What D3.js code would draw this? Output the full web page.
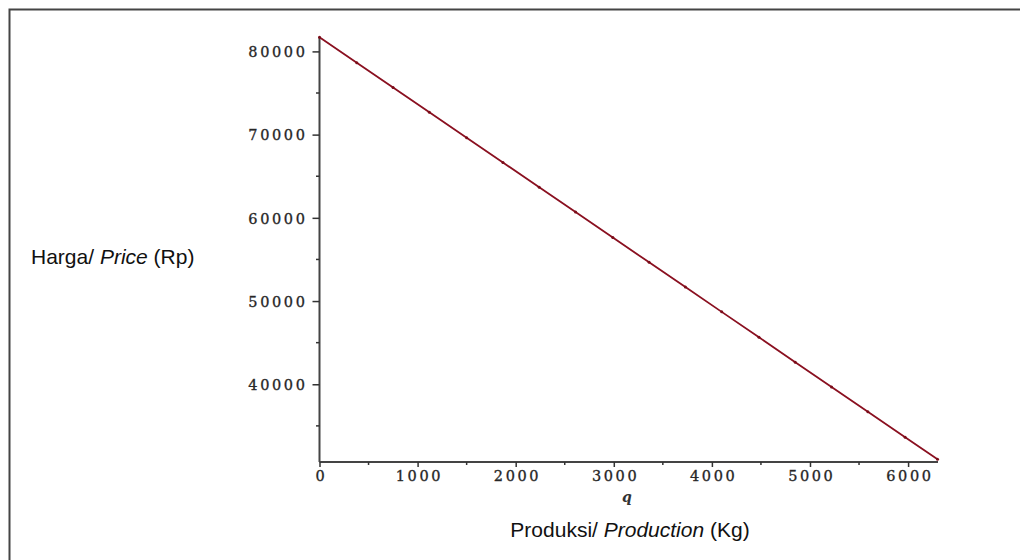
<!DOCTYPE html>
<html>
<head>
<meta charset="utf-8">
<script src="https://cdn.jsdelivr.net/npm/d3@7"></script>
<style>
  body { margin: 0; background: #fff; }
  .tick-label { font-family: "DejaVu Serif", serif; font-size: 14.5px; letter-spacing: 2.6px; fill: #222; stroke: #333; stroke-width: 0.35px; }
  .title { font-family: "Liberation Sans", Arial, sans-serif; font-size: 21px; fill: #111; }
</style>
</head>
<body>
<div id="chart"></div>
<script>
// values
const production = [0, 380, 750, 1120, 1500, 1870, 2240, 2610, 2990, 3360, 3730, 4100, 4480, 4850, 5220, 5590, 5970, 6300];
const price = [81700, 78640, 75660, 72680, 69620, 66650, 63670, 60690, 57630, 54650, 51680, 48700, 45640, 42660, 39680, 36700, 33640, 30980];
const xTicks = [0, 1000, 2000, 3000, 4000, 5000, 6000];
const yTicks = [40000, 50000, 60000, 70000, 80000];
const xDomain = [0, 6305];
const yDomain = [30660, 81730];

const W = 1020, H = 560;
const svg = d3.select("#chart").append("svg")
    .attr("width", W)
    .attr("height", H);

// outer frame
svg.append("rect")
    .attr("x", 9.5).attr("y", 9.5)
    .attr("width", W).attr("height", H)
    .attr("fill", "none")
    .attr("stroke", "#444")
    .attr("stroke-width", 2);

const x = d3.scaleLinear().domain(xDomain).range([319.5, 938]);
const y = d3.scaleLinear().domain(yDomain).range([462, 37]);

const data = production.map((q, i) => ({q: q, p: price[i]}));

// minor ticks
const xMinor = d3.range(500, 6300, 1000);
const yMinor = d3.range(35000, 81000, 10000);

const xAxis = d3.axisBottom(x).tickValues(xTicks).tickSize(5).tickFormat(d3.format("d"));
const yAxis = d3.axisLeft(y).tickValues(yTicks).tickSize(7).tickFormat(d3.format("d"));

const gx = svg.append("g").attr("transform", "translate(0,462)").call(xAxis);
const gy = svg.append("g").attr("transform", "translate(319.5,0)").call(yAxis);

[gx, gy].forEach(g => {
    g.select(".domain").attr("stroke", "#444").attr("stroke-width", 2);
    g.selectAll(".tick line").attr("stroke", "#333").attr("stroke-width", 1.5);
    g.selectAll(".tick text").attr("class", "tick-label").attr("font-size", null).attr("font-family", null);
});
gx.select(".domain").attr("d", "M319.5,0H938");
gy.select(".domain").attr("d", "M0,462V37");
gx.selectAll(".tick text").attr("dy", "0.72em").attr("y", 9).attr("dx", 1.3);
gy.selectAll(".tick text").attr("x", -12).attr("dy", "0.36em");

svg.append("g").selectAll("line")
    .data(xMinor).join("line")
    .attr("x1", d => x(d)).attr("x2", d => x(d))
    .attr("y1", 462).attr("y2", 465)
    .attr("stroke", "#333").attr("stroke-width", 1.5);

svg.append("g").selectAll("line")
    .data(yMinor).join("line")
    .attr("x1", 316).attr("x2", 319.5)
    .attr("y1", d => y(d)).attr("y2", d => y(d))
    .attr("stroke", "#333").attr("stroke-width", 1.5);

// demand line
const line = d3.line().x(d => x(d.q)).y(d => y(d.p));
svg.append("path")
    .datum(data)
    .attr("d", line)
    .attr("fill", "none")
    .attr("stroke", "#8a1020")
    .attr("stroke-width", 1.8);

svg.append("g").selectAll("circle")
    .data(data).join("circle")
    .attr("cx", d => x(d.q)).attr("cy", d => y(d.p))
    .attr("r", 1.5)
    .attr("fill", "#7a0c18");

// labels
svg.append("text")
    .attr("x", 627).attr("y", 502)
    .attr("text-anchor", "middle")
    .attr("font-family", "DejaVu Serif, serif")
    .attr("font-style", "italic")
    .attr("font-weight", "bold")
    .attr("font-size", 14)
    .attr("fill", "#333")
    .text("q");

const xt = svg.append("text").attr("class", "title")
    .attr("x", 630).attr("y", 537).attr("text-anchor", "middle");
xt.append("tspan").text("Produksi/ ");
xt.append("tspan").attr("font-style", "italic").text("Production");
xt.append("tspan").text(" (Kg)");

const yt = svg.append("text").attr("class", "title")
    .attr("x", 31).attr("y", 264);
yt.append("tspan").text("Harga/ ");
yt.append("tspan").attr("font-style", "italic").text("Price");
yt.append("tspan").text(" (Rp)");
</script>
</body>
</html>
